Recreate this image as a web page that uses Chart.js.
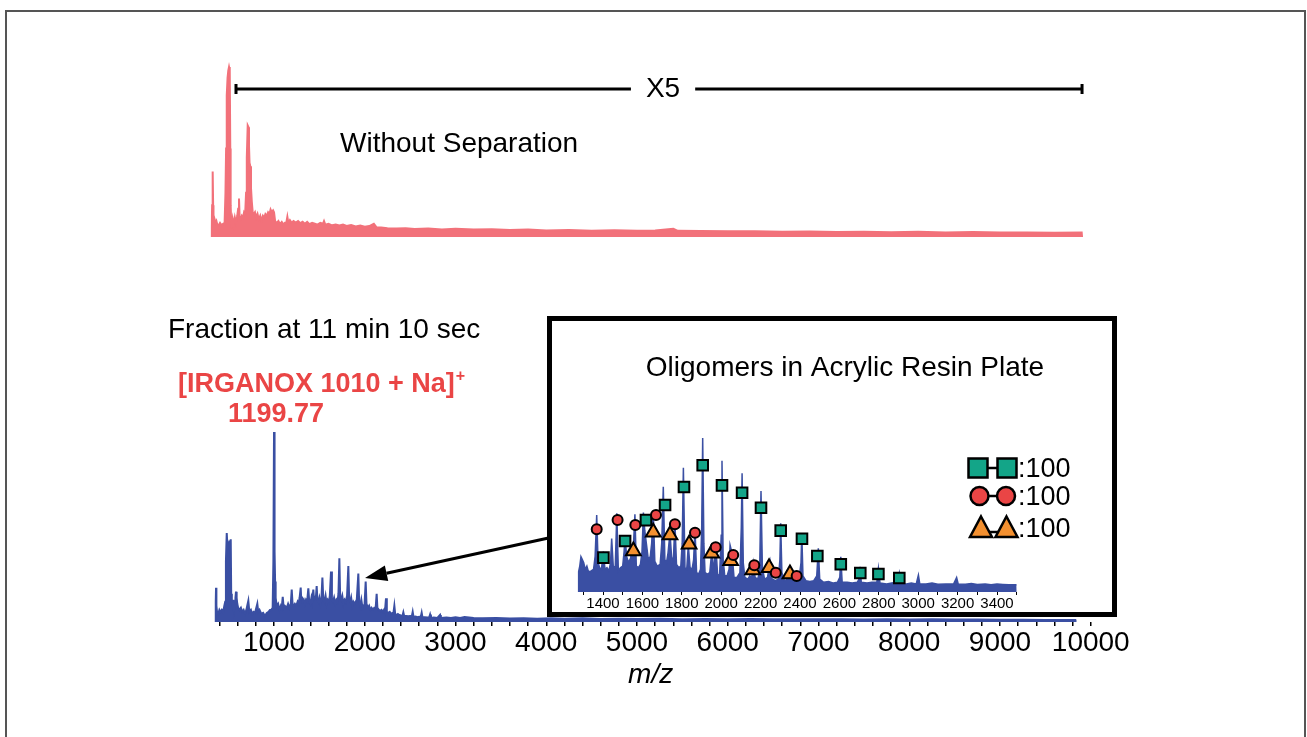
<!DOCTYPE html>
<html>
<head>
<meta charset="utf-8">
<script src="https://cdn.jsdelivr.net/npm/chart.js"></script>
<style>
  html, body { margin: 0; padding: 0; background: #fff; overflow: hidden; }
  .layer { position: absolute; left: 0; top: 0; }
  #frame { position: absolute; left: 5px; top: 10px; width: 1297px; height: 760px;
           border: 2px solid #555; border-bottom: none; }
</style>
</head>
<body>
<div id="frame"></div>
<canvas id="topChart" class="layer" width="1307" height="737"></canvas>
<canvas id="mainChart" class="layer" width="1307" height="737"></canvas>
<canvas id="insetChart" class="layer" width="1307" height="737"></canvas>
<script>
// spectrum without separation: [m/z, relative intensity]
const topSpectrum = [
    [310, 0], [313, 5], [318, 18], [324, 37], [329, 18], [333, 11], [340, 8.6], [348, 9.5], [356, 8], [365, 9],
    [375, 7], [390, 6.6], [405, 8], [420, 6.8], [440, 7.5], [455, 7], [465, 25], [472, 50], [479, 80], [488, 90],
    [496, 94], [504, 96], [512, 94], [518, 50], [522, 18], [528, 8], [535, 5], [545, 10], [555, 7], [568, 11],
    [580, 8], [595, 12], [605, 16], [614, 21.8], [621, 11], [632, 10], [645, 12], [658, 11], [670, 14], [682, 13],
    [692, 25], [700, 45], [710, 63], [719, 62], [724, 52], [730, 42], [738, 40], [746, 28], [755, 20], [765, 14],
    [778, 13], [790, 14], [803, 11], [818, 13], [832, 10], [848, 12], [862, 9], [878, 12], [892, 11], [905, 13],
    [920, 12], [935, 14], [950, 13], [962, 15.5], [975, 14], [990, 15], [1000, 14], [1012, 9], [1030, 8], [1048, 9],
    [1065, 7.3], [1085, 8.5], [1105, 7], [1120, 8], [1135, 8], [1147, 11.5], [1158, 8], [1175, 9.5], [1195, 8], [1215, 9],
    [1240, 8.2], [1265, 9], [1290, 7.8], [1315, 8.6], [1340, 7.5], [1365, 8.5], [1390, 7.2], [1420, 8], [1450, 7.5], [1480, 7],
    [1510, 8], [1540, 7.5], [1551, 9], [1565, 7], [1600, 7.5], [1640, 6.6], [1680, 7], [1720, 6.5], [1760, 7], [1800, 6.2],
    [1850, 6.8], [1900, 6], [1950, 6.5], [2000, 5.8], [2050, 6.2], [2100, 7.5], [2130, 5.5], [2180, 5.4], [2250, 5], [2350, 4.8],
    [2450, 5], [2550, 4.5], [2700, 4.8], [2850, 4.3], [3000, 4.6], [3200, 4.2], [3400, 4.4], [3600, 4], [3800, 4.2], [4000, 3.7],
    [4250, 3.9], [4500, 3.6], [4750, 3.8], [5000, 3.5], [5200, 3.7], [5400, 4.6], [5450, 3.5], [5700, 3.4], [6000, 3.2], [6300, 3.3],
    [6600, 3], [6900, 3.1], [7200, 2.8], [7500, 3], [7800, 2.7], [8100, 2.9], [8400, 2.6], [8700, 2.8], [9000, 2.5], [9300, 2.6],
    [9600, 2.4], [9900, 2.5], [9904, 0]
];

// fraction at 11 min 10 sec: [m/z, relative intensity]
const mainSpectrum = [
    [355, 0], [358, 10], [361, 17], [365, 8], [372, 5], [385, 4], [398, 6], [410, 5], [425, 6], [440, 5],
    [452, 8], [462, 10], [470, 30], [479, 44], [488, 36], [497, 39], [505, 38], [515, 40], [523, 41], [528, 14],
    [535, 10], [545, 8], [552, 11], [560, 6], [570, 9], [575, 12], [581, 15], [588, 12], [595, 9], [605, 7],
    [620, 6], [635, 7], [650, 5], [665, 6], [680, 4], [695, 6], [705, 8], [717, 10.5], [728, 5], [745, 6],
    [760, 4], [775, 5], [790, 4.5], [805, 7], [816, 9], [826, 5], [840, 6], [860, 4], [880, 4.5], [900, 3],
    [920, 4.5], [940, 5], [955, 6], [970, 6], [985, 7], [993, 30], [1000, 94], [1006, 35], [1012, 20], [1018, 12],
    [1030, 8], [1045, 9], [1060, 6], [1075, 8], [1085, 7], [1096, 12.5], [1106, 7], [1120, 8], [1140, 7], [1155, 9],
    [1170, 7], [1185, 9], [1195, 16], [1204, 9], [1218, 8], [1230, 9], [1245, 8], [1260, 10], [1270, 9], [1282, 12],
    [1294, 17], [1300, 11], [1308, 12.5], [1316, 10], [1328, 11], [1340, 9], [1352, 11], [1365, 10], [1378, 16.7], [1388, 10],
    [1400, 9], [1412, 12], [1420, 10], [1433, 16], [1441, 11], [1450, 13], [1458, 10], [1470, 17.8], [1478, 11], [1490, 10],
    [1500, 12], [1512, 9], [1522, 11], [1533, 22], [1543, 11], [1555, 10], [1568, 13], [1580, 9], [1592, 11], [1605, 10],
    [1615, 13], [1628, 25], [1638, 11], [1650, 10], [1662, 12], [1675, 9], [1688, 11], [1700, 10], [1710, 14], [1720, 31.5],
    [1729, 12], [1740, 11], [1752, 13], [1765, 9], [1778, 11], [1790, 10], [1805, 13], [1819, 27.7], [1828, 11], [1840, 10],
    [1850, 12], [1862, 8], [1875, 10], [1888, 9], [1900, 10], [1912, 11], [1929, 24], [1938, 10], [1950, 8], [1962, 11],
    [1975, 7], [1988, 8], [1998, 9], [2010, 20], [2019, 9], [2035, 7], [2048, 8], [2060, 6], [2075, 7], [2090, 6],
    [2105, 7], [2120, 7], [2131, 14], [2139, 7], [2155, 6], [2170, 5.5], [2185, 6], [2200, 5], [2212, 6], [2222, 5],
    [2234, 11.7], [2243, 5], [2260, 4.5], [2275, 5], [2290, 4], [2305, 4.5], [2316, 4.5], [2326, 8], [2335, 4], [2350, 3.5],
    [2365, 4], [2380, 3.5], [2400, 3.2], [2415, 3], [2425, 4.8], [2434, 3], [2455, 3], [2480, 2.8], [2500, 3], [2518, 2.8],
    [2528, 5], [2537, 2.5], [2560, 2.7], [2580, 2.4], [2600, 2.6], [2617, 2.5], [2627, 4.6], [2636, 2.3], [2660, 2.4], [2690, 2.2],
    [2710, 2.3], [2720, 3.7], [2729, 2], [2760, 2.2], [2800, 2], [2830, 3.5], [2838, 2], [2900, 2.2], [2950, 2], [3000, 2.4],
    [3050, 2], [3100, 2.5], [3200, 2], [3300, 1.8], [3450, 2], [3600, 1.7], [3750, 1.9], [3900, 1.6], [4050, 1.8], [4200, 1.6],
    [4400, 1.8], [4600, 1.5], [4800, 1.6], [5000, 1.5], [5250, 1.6], [5500, 1.4], [5750, 1.5], [6000, 1.4], [6250, 1.5], [6500, 1.3],
    [6750, 1.4], [7000, 1.3], [7250, 1.4], [7500, 1.2], [7750, 1.3], [8000, 1.2], [8250, 1.3], [8500, 1.2], [8750, 1.2], [9000, 1.1],
    [9250, 1.1], [9500, 1.0], [9830, 1.0], [9832, 0]
];

// inset, oligomers in acrylic resin plate: [m/z, relative intensity]
const insetSpectrum = [
    [1275, 0], [1276, 12.5], [1282, 16], [1288, 21.8], [1295, 20], [1302, 18], [1310, 14], [1318, 16], [1326, 12.5], [1340, 13],
    [1352, 14], [1360, 22], [1368, 47.5], [1375, 18], [1383, 15], [1392, 14], [1402, 24.9], [1410, 14], [1420, 15], [1430, 13],
    [1438, 18], [1444, 33], [1452, 16], [1462, 15], [1470, 48.6], [1478, 13], [1488, 15], [1500, 16], [1507, 25], [1512, 34],
    [1520, 22], [1530, 18], [1540, 21], [1546, 25], [1555, 30], [1562, 48], [1569, 16], [1580, 15], [1590, 17], [1598, 25],
    [1605, 49], [1612, 38], [1620, 30], [1630, 20], [1640, 22], [1647, 30], [1655, 50.6], [1663, 19], [1675, 16], [1690, 17],
    [1698, 30], [1706, 65], [1714, 20], [1722, 18], [1730, 24], [1740, 36.6], [1750, 18], [1758, 22], [1765, 43.4], [1773, 17],
    [1785, 15], [1795, 16], [1802, 30], [1808, 76.7], [1816, 15], [1825, 14], [1833, 29], [1842, 15], [1852, 14], [1860, 20],
    [1867, 39.3], [1875, 12], [1885, 11], [1895, 14], [1901, 40], [1906, 95], [1912, 30], [1918, 12], [1930, 11], [1942, 12],
    [1952, 25], [1960, 12], [1972, 30], [1982, 10], [1992, 11], [2000, 35], [2004, 81], [2010, 20], [2018, 10], [2030, 10],
    [2040, 14], [2045, 29], [2055, 24], [2065, 9], [2080, 9], [2095, 12], [2102, 40], [2106, 73.3], [2112, 18], [2120, 9],
    [2135, 8], [2145, 10], [2155, 9], [2163, 17.7], [2172, 9], [2185, 8], [2195, 12], [2202, 62.3], [2209, 15], [2220, 8],
    [2235, 9], [2248, 18.7], [2258, 8], [2275, 7], [2290, 8], [2298, 20], [2302, 42.4], [2308, 12], [2320, 7], [2340, 8],
    [2355, 12], [2365, 7], [2380, 7], [2395, 8], [2405, 18], [2409, 36.2], [2415, 10], [2430, 7], [2450, 6.5], [2470, 7],
    [2485, 10], [2493, 27], [2500, 8], [2520, 6], [2545, 6.5], [2570, 5.5], [2590, 6], [2602, 9], [2607, 21.8], [2614, 6],
    [2640, 6], [2665, 5.5], [2690, 6], [2700, 8], [2705, 15.6], [2711, 6], [2740, 5.5], [2765, 6], [2790, 6], [2798, 14.6],
    [2806, 5.5], [2840, 5], [2865, 5.5], [2895, 6], [2904, 11.5], [2911, 5], [2940, 5], [2965, 5.5], [2990, 5], [3001, 10.5],
    [3008, 5], [3040, 5], [3070, 5.5], [3100, 4.8], [3140, 5], [3180, 5], [3195, 9], [3203, 5], [3240, 4.8], [3270, 5.3],
    [3300, 4.7], [3340, 5], [3370, 4.5], [3400, 5], [3430, 4.7], [3460, 4.4], [3500, 4.5], [3502, 0]
];

// assigned oligomer series (marker positions)
const squareMz  = [1402, 1512, 1618, 1715, 1811, 1906, 2004, 2106, 2202, 2302, 2410, 2488, 2607, 2706, 2798, 2904];
const squareInt = [21.2, 31.5, 44.4, 53.7, 64.8, 78.2, 65.8, 61.3, 52, 37.9, 32.9, 22.2, 17.1, 11.7, 11.1, 8.6];
const circleMz  = [1368, 1474, 1564, 1669, 1765, 1867, 1972, 2061, 2168, 2277, 2383];
const circleInt = [38.7, 44.4, 41.4, 47.5, 41.8, 36.6, 27.6, 22.8, 16.5, 11.9, 9.9];
const triangleMz  = [1554, 1655, 1740, 1837, 1952, 2048, 2160, 2243, 2349];
const triangleInt = [25.3, 36.9, 35.2, 29.4, 23.9, 19.3, 13.6, 15, 11.1];

const legendLabels = [':100', ':100', ':100'];

const FONT = "'Liberation Sans', Arial, Helvetica, sans-serif";
const PINK = '#f2717a';
const BLUE = '#3a4fa3';
const GREEN = '#13a588';
const RED = '#ea4545';
const ORANGE = '#f39030';

function toPoints(pairs) {
    return pairs.map(p => ({ x: p[0], y: p[1] }));
}

function spectrum(pairs, color, width) {
    return {
        data: toPoints(pairs),
        borderColor: color,
        backgroundColor: color,
        borderWidth: width,
        fill: 'origin',
        pointRadius: 0,
        tension: 0,
        order: 2
    };
}

const baseOptions = (padding) => ({
    responsive: false,
    animation: false,
    events: [],
    layout: { padding: padding },
    plugins: { legend: { display: false }, tooltip: { enabled: false } }
});

// X5 bracket and label over the top spectrum
const topNotes = {
    id: 'topNotes',
    afterDraw(chart) {
        const { ctx, scales: { x, y } } = chart;
        const yy = y.getPixelForValue(83.6);
        const x1 = x.getPixelForValue(581);
        const x2 = x.getPixelForValue(9904);
        const xc = x.getPixelForValue(5287);
        ctx.save();
        ctx.font = `28px ${FONT}`;
        const half = ctx.measureText('X5').width / 2 + 15;
        ctx.strokeStyle = '#000';
        ctx.lineWidth = 3;
        ctx.beginPath();
        ctx.moveTo(x1, yy); ctx.lineTo(xc - half, yy);
        ctx.moveTo(xc + half, yy); ctx.lineTo(x2, yy);
        ctx.moveTo(x1, yy - 5); ctx.lineTo(x1, yy + 5);
        ctx.moveTo(x2, yy - 5); ctx.lineTo(x2, yy + 5);
        ctx.stroke();
        ctx.fillStyle = '#000';
        ctx.textAlign = 'center';
        ctx.textBaseline = 'middle';
        ctx.fillText('X5', xc, yy);
        ctx.textAlign = 'left';
        ctx.textBaseline = 'alphabetic';
        ctx.fillText('Without Separation', 340, 152);
        ctx.restore();
    }
};

// labels and arrow for the fraction spectrum
const mainNotes = {
    id: 'mainNotes',
    afterDraw(chart) {
        const { ctx, scales: { x, y } } = chart;
        ctx.save();
        ctx.textBaseline = 'alphabetic';
        ctx.fillStyle = '#000';
        ctx.font = `28px ${FONT}`;
        ctx.fillText('Fraction at 11 min 10 sec', 168, 338);
        ctx.fillStyle = RED;
        ctx.font = `bold 27px ${FONT}`;
        const t = '[IRGANOX 1010 + Na]';
        ctx.fillText(t, 178, 392);
        const w = ctx.measureText(t).width;
        ctx.font = `bold 16px ${FONT}`;
        ctx.fillText('+', 178 + w + 1, 381);
        ctx.font = `bold 27px ${FONT}`;
        ctx.fillText('1199.77', 228, 422);

        // arrow from the inset to the oligomer region
        const sx = x.getPixelForValue(4063), sy = y.getPixelForValue(42);
        const ex = x.getPixelForValue(2003), ey = y.getPixelForValue(21.8);
        const ang = Math.atan2(ey - sy, ex - sx);
        const head = 22, hw = 8;
        const bx = ex - head * Math.cos(ang), by = ey - head * Math.sin(ang);
        ctx.strokeStyle = '#000';
        ctx.lineWidth = 3;
        ctx.beginPath();
        ctx.moveTo(sx, sy); ctx.lineTo(bx, by);
        ctx.stroke();
        ctx.fillStyle = '#000';
        ctx.beginPath();
        ctx.moveTo(ex, ey);
        ctx.lineTo(bx + hw * Math.sin(ang), by - hw * Math.cos(ang));
        ctx.lineTo(bx - hw * Math.sin(ang), by + hw * Math.cos(ang));
        ctx.closePath();
        ctx.fill();
        ctx.restore();
    }
};

function drawShape(ctx, kind, cx, cy, s, color) {
    ctx.fillStyle = color;
    ctx.beginPath();
    if (kind === 'rect') {
        ctx.rect(cx - s, cy - s, 2 * s, 2 * s);
    } else if (kind === 'circle') {
        ctx.arc(cx, cy, s, 0, Math.PI * 2);
    } else {
        ctx.moveTo(cx, cy - s * 1.05);
        ctx.lineTo(cx + s * 1.1, cy + s);
        ctx.lineTo(cx - s * 1.1, cy + s);
        ctx.closePath();
    }
    ctx.fill();
    ctx.stroke();
}

// box, title and legend of the inset
const insetFrame = {
    id: 'insetFrame',
    beforeDraw(chart) {
        const ctx = chart.ctx;
        ctx.save();
        ctx.fillStyle = '#fff';
        ctx.fillRect(549.5, 318.5, 565, 296);
        ctx.strokeStyle = '#000';
        ctx.lineWidth = 5;
        ctx.strokeRect(549.5, 318.5, 565, 296);
        ctx.fillStyle = '#000';
        ctx.font = `28px ${FONT}`;
        ctx.textAlign = 'center';
        ctx.fillText('Oligomers in Acrylic Resin Plate', 845, 376);
        ctx.restore();
    },
    afterDraw(chart) {
        const ctx = chart.ctx;
        const rows = [
            { kind: 'rect', color: GREEN, y: 468, s: 9.5, a: 978, b: 1007, base: 477 },
            { kind: 'circle', color: RED, y: 496, s: 9, a: 979.5, b: 1006, base: 505 },
            { kind: 'triangle', color: ORANGE, y: 527, s: 10, a: 981, b: 1006.5, base: 537 }
        ];
        ctx.save();
        ctx.strokeStyle = '#000';
        ctx.lineWidth = 2.5;
        rows.forEach((r, i) => {
            const ly = r.y + (r.kind === 'triangle' ? 5 : 0);
            ctx.beginPath();
            ctx.moveTo(r.a, ly);
            ctx.lineTo(r.b, ly);
            ctx.stroke();
            drawShape(ctx, r.kind, r.a, r.y, r.s, r.color);
            drawShape(ctx, r.kind, r.b, r.y, r.s, r.color);
            ctx.fillStyle = '#000';
            ctx.font = `27px ${FONT}`;
            ctx.fillText(legendLabels[i], 1018, r.base);
        });
        ctx.restore();
    }
};

document.addEventListener('DOMContentLoaded', () => {
    new Chart(document.getElementById('topChart'), {
        type: 'line',
        data: { datasets: [spectrum(topSpectrum, PINK, 2)] },
        options: Object.assign(baseOptions({ left: 210.5, right: 216.25, top: 60, bottom: 500 }), {
            scales: {
                x: { type: 'linear', min: 300, max: 10000, display: false },
                y: { min: 0, max: 100, display: false }
            }
        }),
        plugins: [topNotes]
    });

    new Chart(document.getElementById('mainChart'), {
        type: 'line',
        data: { datasets: [spectrum(mainSpectrum, BLUE, 2)] },
        options: Object.assign(baseOptions({ left: 210.5, right: 216.25, top: 420, bottom: 0 }), {
            scales: {
                x: {
                    type: 'linear', min: 300, max: 10000,
                    border: { display: false },
                    grid: { drawOnChartArea: false, tickLength: 4, color: '#000', lineWidth: 1.5 },
                    ticks: {
                        stepSize: 200, includeBounds: false, autoSkip: false,
                        maxRotation: 0, minRotation: 0, padding: 0, color: '#000',
                        font: { size: 28, family: FONT },
                        callback: v => (v % 1000 === 0 ? String(v) : '')
                    },
                    title: {
                        display: true, text: 'm/z', color: '#000',
                        font: { size: 28, style: 'italic', family: FONT },
                        padding: { top: 0, bottom: 45 }
                    },
                    afterFit: s => { s.height = 115; }
                },
                y: { min: 0, max: 100, display: false }
            }
        }),
        plugins: [mainNotes]
    });

    const marker = (xs, ys, style, color, radius) => ({
        data: xs.map((x, i) => ({ x: x, y: ys[i] })),
        showLine: false,
        pointStyle: style,
        pointRadius: radius,
        pointBackgroundColor: color,
        pointBorderColor: '#000',
        pointBorderWidth: 2,
        order: 1
    });

    new Chart(document.getElementById('insetChart'), {
        type: 'line',
        data: {
            datasets: [
                spectrum(insetSpectrum, BLUE, 1.5),
                marker(circleMz, circleInt, 'circle', RED, 5),
                marker(triangleMz, triangleInt, 'triangle', ORANGE, 8.5),
                marker(squareMz, squareInt, 'rect', GREEN, 7.5)
            ]
        },
        options: Object.assign(baseOptions({ left: 577.4, right: 290.3, top: 430, bottom: 125 }), {
            scales: {
                x: {
                    type: 'linear', min: 1270, max: 3500,
                    border: { display: false },
                    grid: { drawOnChartArea: false, tickLength: 3, color: '#000', lineWidth: 1 },
                    ticks: {
                        stepSize: 100, includeBounds: false, autoSkip: false,
                        maxRotation: 0, minRotation: 0, padding: 0, color: '#000',
                        font: { size: 15, family: FONT },
                        callback: v => (v % 200 === 0 && v >= 1400 && v <= 3400 ? String(v) : '')
                    },
                    afterFit: s => { s.height = 20; }
                },
                y: { min: 0, max: 100, display: false }
            }
        }),
        plugins: [insetFrame]
    });
});
</script>
</body>
</html>
